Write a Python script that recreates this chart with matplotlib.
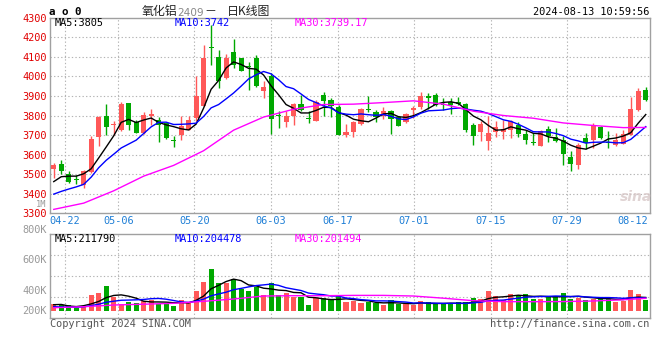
import matplotlib
matplotlib.use("Agg")
import matplotlib.pyplot as plt
import numpy as np

# ---------------- data ----------------
opens = [3528, 3554, 3501, 3474, 3447, 3510, 3688, 3800, 3752, 3724,
         3863, 3766, 3710, 3800, 3778, 3762, 3675, 3702, 3727, 3787,
         3851, 4151, 4100, 3991, 4125, 4096, 4049, 4093, 3926, 4003,
         3804, 3765, 3795, 3858, 3783, 3773, 3906, 3880, 3846, 3699,
         3714, 3756, 3833, 3818, 3795, 3821, 3790, 3765, 3828, 3841,
         3901, 3906, 3856, 3868, 3868, 3860, 3753, 3715, 3668, 3715,
         3715, 3727, 3753, 3707, 3661, 3646, 3733, 3688, 3676, 3588,
         3545, 3685, 3676, 3739, 3663, 3647, 3656, 3702, 3828, 3931]
highs = [3557, 3571, 3518, 3498, 3523, 3695, 3800, 3860, 3773, 3868,
         3865, 3777, 3817, 3835, 3790, 3768, 3693, 3795, 3795, 4000,
         4161, 4263, 4135, 4113, 4191, 4096, 4076, 4110, 3974, 4016,
         3824, 3821, 3863, 3906, 3821, 3880, 3919, 3892, 3855, 3756,
         3773, 3838, 3901, 3826, 3843, 3826, 3795, 3811, 3851, 3919,
         3914, 3914, 3889, 3889, 3897, 3863, 3761, 3770, 3795, 3770,
         3777, 3777, 3767, 3727, 3710, 3727, 3744, 3736, 3693, 3620,
         3659, 3710, 3761, 3744, 3719, 3710, 3727, 3897, 3943, 3948]
lows = [3480, 3501, 3455, 3450, 3427, 3505, 3646, 3702, 3702, 3720,
        3727, 3709, 3707, 3753, 3665, 3680, 3637, 3676, 3727, 3773,
        3851, 4059, 3940, 3988, 4042, 4025, 3931, 3948, 3892, 3707,
        3736, 3741, 3753, 3824, 3761, 3773, 3795, 3790, 3699, 3688,
        3690, 3753, 3816, 3767, 3782, 3707, 3744, 3761, 3787, 3834,
        3833, 3851, 3829, 3807, 3855, 3715, 3647, 3668, 3625, 3690,
        3681, 3685, 3688, 3654, 3647, 3642, 3663, 3663, 3549, 3515,
        3528, 3630, 3634, 3681, 3634, 3642, 3654, 3702, 3824, 3872]
closes = [3549, 3515, 3459, 3472, 3515, 3680, 3790, 3739, 3756, 3860,
          3753, 3712, 3804, 3806, 3752, 3685, 3670, 3748, 3777, 3901,
          4096, 4146, 3974, 4096, 4059, 4028, 4047, 3953, 3948, 3783,
          3800, 3795, 3858, 3829, 3781, 3868, 3875, 3850, 3699, 3716,
          3765, 3835, 3826, 3792, 3821, 3782, 3748, 3807, 3838, 3901,
          3887, 3855, 3853, 3855, 3858, 3727, 3693, 3756, 3710, 3741,
          3733, 3770, 3707, 3676, 3659, 3719, 3693, 3671, 3603, 3554,
          3651, 3659, 3748, 3685, 3659, 3676, 3707, 3835, 3926, 3880]

ma5 = [3462, 3487, 3490, 3490, 3502, 3528, 3583, 3639, 3696, 3765,
       3780, 3764, 3777, 3787, 3765, 3752, 3743, 3732, 3726, 3756,
       3838, 3934, 3979, 4043, 4074, 4061, 4041, 4037, 4007, 3952,
       3906, 3856, 3837, 3813, 3813, 3826, 3842, 3841, 3815, 3802,
       3781, 3773, 3768, 3787, 3808, 3811, 3794, 3790, 3799, 3815,
       3836, 3858, 3867, 3870, 3862, 3830, 3797, 3778, 3749, 3725,
       3727, 3742, 3732, 3725, 3709, 3706, 3691, 3684, 3669, 3648,
       3634, 3628, 3643, 3659, 3680, 3685, 3695, 3712, 3761, 3805]
ma10 = [3398, 3412, 3424, 3435, 3448, 3485, 3533, 3571, 3602, 3634,
        3654, 3674, 3708, 3742, 3765, 3766, 3754, 3755, 3757, 3761,
        3795, 3839, 3856, 3885, 3915, 3950, 3987, 4008, 4025, 4013,
        3983, 3948, 3937, 3910, 3882, 3866, 3849, 3839, 3814, 3807,
        3804, 3808, 3804, 3801, 3805, 3796, 3783, 3779, 3793, 3812,
        3824, 3826, 3828, 3835, 3838, 3833, 3827, 3822, 3810, 3794,
        3778, 3770, 3755, 3737, 3717, 3716, 3716, 3708, 3697, 3679,
        3670, 3659, 3663, 3664, 3664, 3660, 3661, 3678, 3710, 3743]
ma30_idx = [0, 4, 8, 12, 16, 20, 24, 28, 32, 36, 40, 44, 48, 52, 56, 60, 64, 68, 72, 76, 79]
ma30 = [3320, 3352, 3415, 3490, 3545, 3620, 3725, 3792, 3832, 3856, 3858,
        3866, 3875, 3858, 3822, 3800, 3786, 3762, 3749, 3738, 3739]

# volume in thousands
volume = [107, 91, 91, 48, 64, 251, 288, 395, 224, 107,
          144, 128, 155, 165, 107, 128, 80, 171, 133, 320,
          464, 667, 448, 437, 507, 347, 320, 373, 251, 448,
          251, 288, 224, 224, 91, 208, 197, 171, 240, 133,
          155, 128, 133, 117, 91, 171, 107, 101, 91, 155,
          133, 101, 101, 117, 133, 133, 203, 187, 315, 235,
          171, 267, 251, 267, 187, 187, 235, 235, 283, 187,
          208, 171, 187, 219, 187, 144, 155, 331, 267, 171]
vol_ma5 = [96, 100, 75, 66, 80, 109, 148, 209, 244, 253,
           232, 200, 152, 140, 140, 137, 127, 130, 124, 166,
           234, 351, 406, 467, 505, 481, 412, 397, 360, 348,
           329, 322, 292, 287, 216, 207, 189, 178, 181, 190,
           179, 165, 158, 133, 125, 128, 124, 117, 112, 125,
           117, 116, 116, 121, 117, 117, 137, 155, 194, 215,
           222, 235, 248, 238, 229, 232, 225, 222, 225, 225,
           230, 217, 207, 194, 194, 182, 178, 207, 217, 212]
vol_ma10 = [64, 60, 58, 56, 62, 82, 104, 135, 152, 167,
            170, 174, 180, 192, 196, 184, 163, 141, 132, 153,
            185, 239, 268, 296, 336, 357, 381, 402, 413, 426,
            405, 367, 345, 323, 282, 268, 256, 235, 234, 203,
            193, 177, 168, 157, 157, 154, 145, 138, 123, 125,
            123, 120, 117, 117, 121, 117, 127, 135, 158, 166,
            170, 186, 201, 216, 222, 227, 230, 235, 232, 227,
            231, 221, 215, 210, 210, 206, 198, 207, 206, 204]
vol_ma30 = [48, 64, 91, 104, 118, 150, 187, 235, 240, 240, 245,
            245, 235, 200, 160, 145, 144, 146, 155, 175, 198]

date_labels = ["04-22", "05-06", "05-20", "06-03", "06-17", "07-01", "07-15", "07-29"]
date_grid_pos = [1.5, 8.6, 18.75, 28.95, 37.9, 48.05, 58.3, 68.45]
last_label = "08-12"
last_label_pos = 77.3
price_ticks = [3300, 3400, 3500, 3600, 3700, 3800, 3900, 4000, 4100, 4200, 4300]

title_name = "氧化铝"
title_code = "2409"
title_kind = "日K线图"
stamp = "2024-08-13 10:59:56"
price_legend = ["MA5:3805", "MA10:3742", "MA30:3739.17"]
vol_legend = ["MA5:211790", "MA10:204478", "MA30:201494"]
vol_labels = ["800K", "600K", "400K", "200K"]

# ---------------- drawing ----------------
W, H = 660, 360
UP, DOWN = "#ff5858", "#00a800"
GRID = "#b4b4b4"
BORDER = "#a0a0a0"
MONO = "DejaVu Sans Mono"

fig = plt.figure(figsize=(6.6, 3.6), dpi=100)


def rect(x0, y0, x1, y1):
    return [x0 / W, 1 - y1 / H, (x1 - x0) / W, (y1 - y0) / H]


def ftext(x, y, s, **kw):
    fig.text(x / W, 1 - y / H, s, **kw)


ax = fig.add_axes(rect(50, 17.7, 649.5, 213.3))
axv = fig.add_axes(rect(50, 234.3, 649.5, 318.3))

n = len(closes)
x = np.arange(n)
o, h, l, c = map(np.array, (opens, highs, lows, closes))
cols = [UP if cc >= oo else DOWN for oo, cc in zip(o, c)]

for a in (ax, axv):
    a.set_xlim(-0.5, n - 0.5)
    for s in a.spines.values():
        s.set_color(BORDER)
        s.set_linewidth(1.0)
    for gx in date_grid_pos:
        a.axvline(gx, color=GRID, lw=0.8, ls=(0, (1.2, 2)), zorder=0)

# price panel
ax.set_ylim(3300, 4300)
for p in price_ticks[1:-1]:
    ax.axhline(p, color=GRID, lw=0.8, ls=(0, (1.2, 2)), zorder=0)
ax.vlines(x, l, h, colors=cols, lw=1.0, zorder=2)
body = np.maximum(np.abs(c - o), 5)
ax.bar(x, body, bottom=np.minimum(o, c), width=0.68, color=cols, lw=0, zorder=3)
ax.plot(x, ma5, color="black", lw=1.0, zorder=4)
ax.plot(x, ma10, color="#0000ff", lw=1.0, zorder=4)
ax.plot(ma30_idx, ma30, color="#ff00ff", lw=1.0, zorder=4)

ax.set_yticks(price_ticks)
ax.set_yticklabels([str(p) for p in price_ticks], color="#e00000",
                   fontfamily=MONO, fontsize=7.4)
ax.set_xticks(date_grid_pos + [last_label_pos])
ax.set_xticklabels(date_labels + [last_label], color="#1f7fd6",
                   fontfamily=MONO, fontsize=7.4)
ax.tick_params(length=0, pad=2)
ax.text(-0.006, 3345, "1M", transform=ax.get_yaxis_transform(), ha="right",
        va="center", color="#999999", fontfamily=MONO, fontsize=6.2)

# volume panel
vmax_px, vmin_px, kpp = 76.4, 7.6, 16.0
axv.set_ylim(-vmin_px * kpp, vmax_px * kpp)
for gy in np.linspace(-vmin_px * kpp, vmax_px * kpp, 5)[1:-1]:
    axv.axhline(gy, color=GRID, lw=0.8, ls=(0, (1.2, 2)), zorder=0)
axv.bar(x, volume, width=0.68, color=cols, lw=0, zorder=2)
axv.plot(x, vol_ma5, color="black", lw=1.0, zorder=3)
axv.plot(x, vol_ma10, color="#0000ff", lw=1.0, zorder=3)
axv.plot(ma30_idx, vol_ma30, color="#ff00ff", lw=1.0, zorder=3)
axv.set_xticks([])
axv.set_yticks([])

for lab, yy in zip(vol_labels, [230, 260, 291, 311]):
    ftext(47, yy, lab, ha="right", va="center", color="#999999",
          fontfamily=MONO, fontsize=7.4)

# header
ftext(49, 12, "a o 0", ha="left", va="center", color="black",
      fontfamily=MONO, fontsize=7.8, fontweight="bold")
ftext(142, 12, title_name, ha="left", va="center", color="#222222",
      fontfamily="Noto Sans CJK SC", fontsize=8.6)
ftext(177, 12.5, title_code, ha="left", va="center", color="#888888",
      fontfamily="DejaVu Sans", fontsize=7.6)
ftext(210, 12, "－", ha="center", va="center", color="#222222",
      fontfamily="Noto Sans CJK SC", fontsize=8.6)
ftext(227, 12, title_kind, ha="left", va="center", color="#222222",
      fontfamily="Noto Sans CJK SC", fontsize=8.6)
ftext(649, 12, stamp, ha="right", va="center", color="black",
      fontfamily=MONO, fontsize=7.4)

for txt, xx, cc in zip(price_legend, [55, 175, 295], ["black", "#0000ff", "#ff00ff"]):
    ftext(xx, 23, txt, ha="left", va="center", color=cc, fontfamily=MONO, fontsize=7.4)
for txt, xx, cc in zip(vol_legend, [55, 175, 295], ["black", "#0000ff", "#ff00ff"]):
    ftext(xx, 238.5, txt, ha="left", va="center", color=cc, fontfamily=MONO, fontsize=7.4)

ftext(50, 324, "Copyright 2024 SINA.COM", ha="left", va="center", color="#555555",
      fontfamily=MONO, fontsize=7.4)
ftext(649, 324, "http://finance.sina.com.cn", ha="right", va="center", color="#555555",
      fontfamily=MONO, fontsize=7.4)

# watermark
ftext(636, 197, "sina", ha="center", va="center", color="#d8c8c8",
      fontfamily="DejaVu Sans", fontsize=10, fontweight="bold", style="italic", alpha=0.8)

fig.savefig("out.png", dpi=100)
